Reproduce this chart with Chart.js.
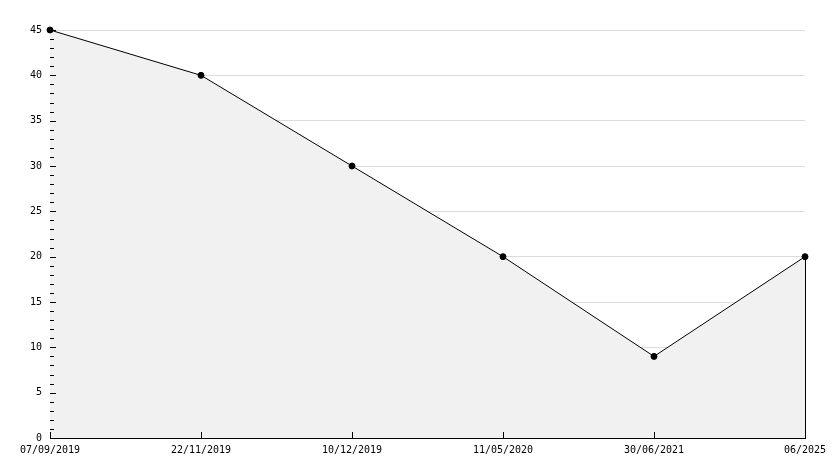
<!DOCTYPE html>
<html lang="en">
<head>
    <meta charset="UTF-8">
    <title>Chart</title>
    <style>
        body { margin: 0; background: #fff; }
        #wrap { width: 834px; height: 468px; }
    </style>
</head>
<body>
    <div id="wrap"><canvas id="chart"></canvas></div>
    <script src="https://cdn.jsdelivr.net/npm/chart.js"></script>
    <script>
        const dates = ['07/09/2019', '22/11/2019', '10/12/2019', '11/05/2020', '30/06/2021', '06/2025'];
        const values = [45, 40, 30, 20, 9, 20];
        const yMin = 0;
        const yMax = 45;
        const yStep = 5;

        // small inward ticks on both axes, plus the closing edge of the filled area
        const innerTicks = {
            id: 'innerTicks',
            afterDatasetsDraw(chart) {
                const ctx = chart.ctx;
                const x = chart.scales.x;
                const y = chart.scales.y;
                const area = chart.chartArea;
                ctx.save();
                ctx.strokeStyle = '#000';
                ctx.lineWidth = 1;
                ctx.beginPath();
                for (let v = yMin; v <= yMax; v++) {
                    const py = Math.round(y.getPixelForValue(v)) + 0.5;
                    const len = v % yStep === 0 ? 6 : 4;
                    ctx.moveTo(area.left, py);
                    ctx.lineTo(area.left + len, py);
                }
                dates.forEach((d, i) => {
                    const px = Math.round(x.getPixelForValue(i)) + 0.5;
                    ctx.moveTo(px, area.bottom);
                    ctx.lineTo(px, area.bottom - 6);
                });
                const last = values.length - 1;
                const lx = Math.round(x.getPixelForValue(last)) + 0.5;
                ctx.moveTo(lx, y.getPixelForValue(values[last]));
                ctx.lineTo(lx, area.bottom);
                ctx.stroke();
                ctx.restore();
            }
        };

        new Chart(document.getElementById('chart'), {
            type: 'line',
            data: {
                labels: dates,
                datasets: [{
                    data: values,
                    clip: false,
                    borderColor: '#000',
                    borderWidth: 1,
                    backgroundColor: '#f1f1f1',
                    fill: 'origin',
                    tension: 0,
                    pointStyle: 'circle',
                    pointRadius: 3,
                    pointBackgroundColor: '#000',
                    pointBorderColor: '#000',
                    pointBorderWidth: 1
                }]
            },
            options: {
                responsive: true,
                maintainAspectRatio: false,
                animation: false,
                layout: { padding: { top: 30, right: 29, left: 0, bottom: 0 } },
                plugins: {
                    legend: { display: false },
                    tooltip: { enabled: false }
                },
                scales: {
                    x: {
                        offset: false,
                        border: { color: '#000', width: 1 },
                        grid: { display: false, drawTicks: false },
                        ticks: {
                            color: '#000',
                            padding: 6,
                            maxRotation: 0,
                            autoSkip: false,
                            font: { family: 'DejaVu Sans Mono', size: 10 }
                        },
                        afterFit(scale) { scale.height = 30; }
                    },
                    y: {
                        min: yMin,
                        max: yMax,
                        border: { color: '#000', width: 1 },
                        grid: { color: '#dcdcdc', drawTicks: false },
                        ticks: {
                            stepSize: yStep,
                            color: '#000',
                            padding: 8,
                            font: { family: 'DejaVu Sans Mono', size: 10 }
                        },
                        afterFit(scale) { scale.width = 50; }
                    }
                }
            },
            plugins: [innerTicks]
        });
    </script>
</body>
</html>
